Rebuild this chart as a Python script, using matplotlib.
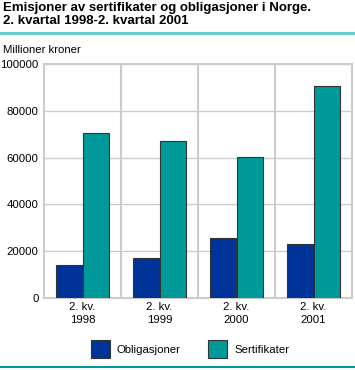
import matplotlib
matplotlib.use("Agg")
import matplotlib.pyplot as plt
from matplotlib.patches import Patch
import numpy as np

# data (millioner kroner)
periods = ["2. kv.\n1998", "2. kv.\n1999", "2. kv.\n2000", "2. kv.\n2001"]
obligasjoner = [14100, 17000, 25500, 22900]
sertifikater = [70500, 67000, 60400, 90400]
series_names = ["Obligasjoner", "Sertifikater"]
colors = ["#003399", "#009999"]

plt.rcParams['font.family'] = ['Liberation Sans', 'DejaVu Sans']

fig = plt.figure(figsize=(3.55, 3.7), dpi=100)
ax = fig.add_axes([44/355, 72/370, 308/355, 234/370])

x = np.arange(len(periods))
w = 0.345
ax.bar(x - w/2, obligasjoner, w, color=colors[0], edgecolor="#333333", linewidth=0.8, zorder=3)
ax.bar(x + w/2, sertifikater, w, color=colors[1], edgecolor="#333333", linewidth=0.8, zorder=3)

ax.set_xlim(-0.5, len(periods) - 0.5)
ax.set_ylim(0, 100000)
ax.set_yticks(range(0, 100001, 20000))
ax.set_yticklabels([str(v) for v in range(0, 100001, 20000)], fontsize=8.2)
ax.set_xticks(x)
ax.set_xticklabels(periods, fontsize=8.2, linespacing=1.3)
ax.tick_params(length=0, pad=3)
ax.tick_params(axis='y', pad=4)

ax.grid(axis='y', color="#cccccc", linewidth=1.0, zorder=0)
for d in x[:-1] + 0.5:
    ax.axvline(d, color="#cccccc", linewidth=1.5, zorder=0)
for s in ax.spines.values():
    s.set_color("#cccccc")
    s.set_linewidth(1.5)

fig.text(3/355, 1 - 2/370, "Emisjoner av sertifikater og obligasjoner i Norge.\n2. kvartal 1998-2. kvartal 2001",
         fontsize=9.5, fontweight='bold', va='top', ha='left', linespacing=1.1)
fig.add_artist(plt.Line2D([0, 1], [1 - 33/370, 1 - 33/370], color="#66cccc", linewidth=2.2))
fig.text(3/355, 1 - 53/370, "Millioner kroner", fontsize=8.2, va='baseline', ha='left')

handles = [Patch(facecolor=c, edgecolor="#333333", linewidth=0.8) for c in colors]
fig.legend(handles, series_names, loc='center', bbox_to_anchor=(190/355, 1 - 349/370), ncol=2,
           frameon=False, fontsize=8.2, handlelength=1.7, handleheight=2.0, columnspacing=2.4,
           handletextpad=0.6)
fig.add_artist(plt.Line2D([0, 1], [1 - 367/370, 1 - 367/370], color="#009999", linewidth=1.5))

fig.savefig("out.png", dpi=100)
